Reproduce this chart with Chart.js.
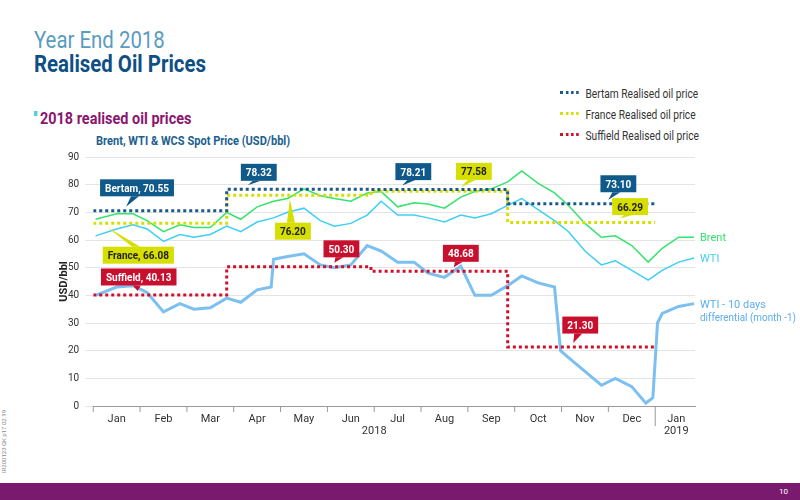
<!DOCTYPE html>
<html><head><meta charset="utf-8">
<script src="https://cdn.jsdelivr.net/npm/chart.js@4"></script>
<style>
body{margin:0;width:800px;height:500px;position:relative;background:#fff;font-family:"Roboto",sans-serif;overflow:hidden}
#c{position:absolute;left:0;top:0}
.n{transform-origin:0 0;transform:scaleX(0.85);white-space:nowrap}
.t1{position:absolute;left:34px;top:26px;font-size:24px;color:#5a9cc0}
.t2{position:absolute;left:34px;top:50px;font-size:24px;font-weight:bold;color:#0e4f86}
.sub{position:absolute;left:34px;top:108px;font-size:17px;font-weight:bold;color:#8c1570}
.sub span{display:inline-block;width:4px;height:5px;background:#4fd0e0;margin-right:3px;vertical-align:8px}
.cap{position:absolute;left:96px;top:133px;font-size:13px;font-weight:bold;color:#1d5f8e}
.leg{position:absolute;left:560px;font-size:12px;color:#333}
.leg i{display:inline-block;width:22px;border-top:3px dotted;margin-right:8px;vertical-align:4px}
.foot{position:absolute;left:0;top:483px;width:800px;height:17px;background:#7a1a6e;color:#fff;font-size:8px}
.side{position:absolute;left:-28px;top:438px;font-size:6px;color:#888;transform:rotate(-90deg)}
</style></head><body>
<div class="t1 n">Year End 2018</div>
<div class="t2 n">Realised Oil Prices</div>
<div class="sub n"><span></span>2018 realised oil prices</div>
<div class="cap n">Brent, WTI &amp; WCS Spot Price (USD/bbl)</div>
<div class="leg n" style="top:87px"><i style="color:#1a5a8a"></i>Bertam Realised oil price</div>
<div class="leg n" style="top:108px"><i style="color:#d6df00"></i>France Realised oil price</div>
<div class="leg n" style="top:129px"><i style="color:#d0102a"></i>Suffield Realised oil price</div>
<div class="side">IR200123 GK p17 02.19</div>
<div class="foot"><span style="position:absolute;right:12px;top:4px">10</span></div>
<canvas id="c" width="800" height="500"></canvas>
<script>
const monthLabels = ["Jan","Feb","Mar","Apr","May","Jun","Jul","Aug","Sep","Oct","Nov","Dec","Jan"];
const yTicks = [0,10,20,30,40,50,60,70,80,90];

const spotX = [0.05,0.5,0.85,1.15,1.5,1.85,2.15,2.5,2.85,3.15,3.5,3.85,4.15,4.5,4.85,5.15,5.5,5.85,6.15,6.5,6.85,7.15,7.5,7.85,8.15,8.5,8.85,9.15,9.5,9.85,10.15,10.5,10.85,11.15,11.5,11.85,12.15,12.5,12.83];
const brent = [67.5,69.5,69.5,67,63,65.5,64.5,64.5,70,67.5,72,74,75,78.5,76,75,74,77,77.5,72,73.5,73,71.5,75.5,77.5,78.5,81,85,80.5,77,72.5,66,61,61.5,58,52,57,61,61];
const wti = [61.5,64,65.5,64,59.5,62,61,62,65,63,66.5,68,70,71.5,67,65,66,69,74,69,69,68,66.5,69,68,69.5,72.5,75,71,67,63,56,51,52.5,49,45.5,49,52,53.5];

const diffX = [0.05,0.5,0.85,1.15,1.5,1.85,2.15,2.5,2.85,3.15,3.5,3.8,3.85,4.15,4.5,4.85,5.15,5.5,5.85,6.15,6.5,6.85,7.15,7.5,7.85,8.15,8.5,8.85,9.15,9.5,9.85,9.98,10.15,10.5,10.85,11.15,11.5,11.8,11.95,12.05,12.15,12.5,12.83];
const diff = [40,43,43.5,41,34,37,35,35.5,39,37.5,42,43,53,54,55,51,50,51,58,56,52,52,48,46.5,50.5,40,40,43.5,47,44.5,43,20,17.5,12.5,7.5,10,7,1,3,30,33.5,36,37];

const stepX = [0,2.85,5.93,8.85,12];
const bertam = [70.55,78.32,78.21,73.10];
const france = [66.08,76.20,77.58,66.29];
const suffield = [40.13,50.30,48.68,21.30];

// callouts: [text, x, y, dx, dy, bg, fg]  (box offset from tip in px)
const callouts = [
  ["Bertam, 70.55",0.7,70.55,11,-23,"#0f5a8a","#fff"],
  ["78.32",3.3,78.32,11,-17,"#0f5a8a","#fff"],
  ["78.21",6.6,78.21,11,-18,"#0f5a8a","#fff"],
  ["77.58",7.85,77.58,13,-20,"#d6df00","#222"],
  ["73.10",11.0,73.10,10,-20,"#0f5a8a","#fff"],
  ["66.29",11.25,66.29,10,-16,"#d6df00","#222"],
  ["76.20",4.2,76.20,3,36,"#d6df00","#222"],
  ["France, 66.08",0.3,66.08,31,32,"#d6df00","#222"],
  ["Suffield, 40.13",0.95,40.13,1,-18,"#c8102e","#fff"],
  ["50.30",5.15,50.30,7,-18,"#c8102e","#fff"],
  ["48.68",7.7,48.68,7,-18,"#c8102e","#fff"],
  ["21.30",10.25,21.30,7,-22,"#c8102e","#fff"]
];

const FONT = '"Roboto",sans-serif';
const pts = (xs, ys) => xs.map((x, i) => ({x, y: ys[i]}));
const steps = (vals) => {
  const out = [];
  vals.forEach((v, i) => { out.push({x: stepX[i], y: v}); out.push({x: stepX[i+1], y: v}); });
  return out;
};
const dotted = (data, color) => ({data, borderColor: color, borderWidth: 3, borderDash: [3,3], pointRadius: 0, tension: 0});

const overlay = {
  id: "overlay",
  afterDraw(chart) {
    const {ctx, scales: {x, y}, chartArea: a} = chart;
    ctx.save();
    ctx.font = "11px " + FONT;
    ctx.fillStyle = "#333";
    ctx.textAlign = "center";
    ctx.strokeStyle = "#999";
    ctx.lineWidth = 1;
    for (let m = 0; m <= 12; m++) {
      const px = x.getPixelForValue(m);
      ctx.beginPath(); ctx.moveTo(px, a.bottom); ctx.lineTo(px, a.bottom + (m === 12 ? 20 : 6)); ctx.stroke();
      const cx = x.getPixelForValue(Math.min(m + 0.5, 12.45));
      ctx.fillText(monthLabels[m], cx, a.bottom + 16);
    }
    ctx.fillText("2018", x.getPixelForValue(6), a.bottom + 28);
    ctx.fillText("2019", x.getPixelForValue(12.45), a.bottom + 28);
    ctx.save();
    ctx.translate(a.left - 26, (a.top + a.bottom) / 2);
    ctx.rotate(-Math.PI / 2);
    ctx.font = "bold 11px " + FONT;
    ctx.fillStyle = "#222";
    ctx.fillText("USD/bbl", 0, 0);
    ctx.restore();
    ctx.textAlign = "left";
    ctx.font = "11px " + FONT;
    ctx.fillStyle = "#33e36b"; ctx.fillText("Brent", a.right + 5, y.getPixelForValue(61) + 4);
    ctx.fillStyle = "#3fcff5"; ctx.fillText("WTI", a.right + 5, y.getPixelForValue(53.5) + 4);
    ctx.fillStyle = "#5aaef0";
    ctx.fillText("WTI - 10 days", a.right + 5, y.getPixelForValue(37) + 4, 96);
    ctx.fillText("differential (month -1)", a.right + 5, y.getPixelForValue(37) + 17, 96);
    ctx.font = "bold 10px " + FONT;
    callouts.forEach(([t, vx, vy, dx, dy, bg, fg]) => {
      const tx = x.getPixelForValue(vx), ty = y.getPixelForValue(vy);
      const w = ctx.measureText(t).width + 10, h = 17;
      const bx = tx + dx, by = ty + dy;
      ctx.fillStyle = bg;
      ctx.fillRect(bx - w / 2, by - h / 2, w, h);
      ctx.beginPath();
      const edge = dy < 0 ? by + h / 2 : by - h / 2;
      ctx.moveTo(bx - 6, edge); ctx.lineTo(tx, ty + (dy < 0 ? -4 : 4)); ctx.lineTo(bx + 2, edge);
      ctx.fill();
      ctx.fillStyle = fg;
      ctx.textAlign = "center";
      ctx.fillText(t, bx, by + 4);
    });
    ctx.restore();
  }
};

new Chart(document.getElementById("c"), {
  type: "line",
  data: {datasets: [
    dotted(steps(bertam), "#1a5a8a"),
    dotted(steps(france), "#d6df00"),
    dotted(steps(suffield), "#d0102a"),
    {data: pts(spotX, brent), borderColor: "#33e36b", borderWidth: 1.5, pointRadius: 0},
    {data: pts(spotX, wti), borderColor: "#3fcff5", borderWidth: 1.5, pointRadius: 0},
    {data: pts(diffX, diff), borderColor: "#7cc0f2", borderWidth: 3, pointRadius: 0}
  ]},
  options: {
    responsive: false, animation: false,
    layout: {padding: {left: 62, right: 105, top: 157, bottom: 86}},
    plugins: {legend: {display: false}, tooltip: {enabled: false}},
    scales: {
      x: {type: "linear", min: 0, max: 12.85, grid: {display: false}, ticks: {display: false},
          border: {color: "#999"}},
      y: {min: 0, max: 90, afterBuildTicks: s => { s.ticks = yTicks.map(v => ({value: v})); },
          grid: {color: "#e4e4e4"}, border: {display: false},
          ticks: {font: {family: FONT, size: 10}, color: "#333", padding: 6}}
    }
  },
  plugins: [overlay]
});
</script>
</body></html>
